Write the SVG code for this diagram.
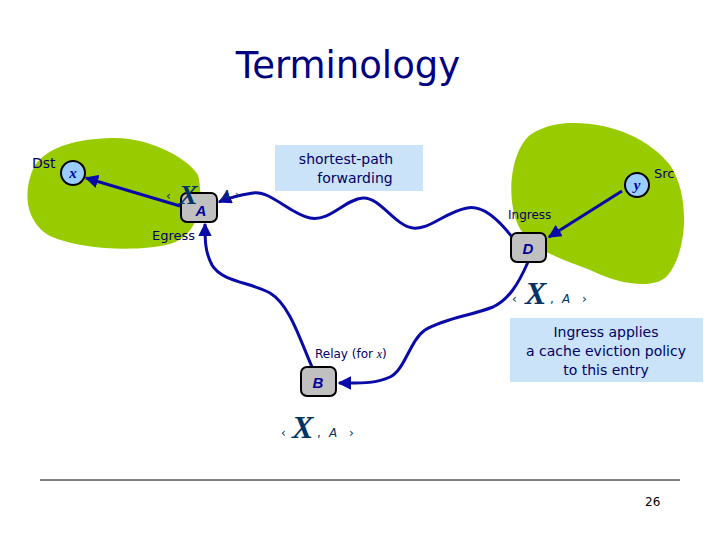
<svg xmlns="http://www.w3.org/2000/svg" width="720" height="540" viewBox="0 0 720 540">
<defs>
<style>
.lbl{font-family:"DejaVu Sans","Open Sans",sans-serif;fill:#000066;}
.blob{fill:#99cc00;}
.note{fill:#cbe3f9;}
.box{fill:#c0c0c0;stroke:#000;stroke-width:2;}
.circ{fill:#99ccff;stroke:#000;stroke-width:2;}
.con{fill:none;stroke:#0a0aa8;stroke-width:3;}
.big{font-family:"Liberation Serif",serif;font-style:italic;font-weight:bold;fill:#003366;}
.sm{font-family:"DejaVu Sans",sans-serif;fill:#003366;font-size:12px;}
.nl{font-family:"Liberation Sans",sans-serif;font-style:italic;font-weight:bold;fill:#000099;}
</style>
<marker id="ah" viewBox="0 0 10 10" refX="9" refY="5" markerWidth="4.5" markerHeight="4.5" orient="auto" markerUnits="strokeWidth">
<path d="M0,0 L10,5 L0,10 z" fill="#0a0aa8"/>
</marker>
</defs>
<rect width="720" height="540" fill="#fff"/>
<text x="348" y="78" text-anchor="middle" font-family="DejaVu Sans,sans-serif" font-size="37" fill="#000080">Terminology</text>

<g id="dst-domain"><path class="blob" d="M110,138 C150,136 190,160 198,175 C204,200 200,235 170,244 C140,252 80,250 50,236 C25,222 22,190 35,165 C50,145 80,139 110,138 Z"/></g>
<g id="src-domain"><path class="blob" d="M573,123 C615,123 650,140 670,165 C690,195 688,250 668,275 C655,290 620,285 590,270 C560,258 530,250 518,225 C505,195 512,150 530,135 C545,125 560,123 573,123 Z"/></g>

<g id="note-spf"><rect class="note" x="275" y="145" width="148" height="46"/>
<text class="lbl" font-size="14" text-anchor="middle"><tspan x="346" y="164">shortest-path</tspan><tspan x="355" y="183">forwarding</tspan></text></g>

<g id="note-ingress"><rect class="note" x="510" y="318" width="193" height="64"/>
<text class="lbl" font-size="14" text-anchor="middle"><tspan x="606" y="337">Ingress applies</tspan><tspan x="606" y="356">a cache eviction policy</tspan><tspan x="606" y="375">to this entry</tspan></text></g>

<g id="connectors">
<path class="con" d="M180,206 L86,178" marker-end="url(#ah)"/>
<path class="con" d="M622,191 L549,237" marker-end="url(#ah)"/>
<path class="con" d="M512,237 C495,215 480,205 467,208 C445,212 430,230 413,228 C395,226 380,197 363,198 C345,199 330,222 310,218 C290,214 270,190 253,193 C240,195 228,198 219,202" marker-end="url(#ah)"/>
<path class="con" d="M528,262 C518,285 508,300 493,307 C470,316 445,318 425,330 C410,340 405,370 390,377 C375,384 360,383 339,383" marker-end="url(#ah)"/>
<path class="con" d="M312,367 C300,340 290,305 270,293 C250,282 222,282 212,265 C205,252 205,240 205,224" marker-end="url(#ah)"/>
</g>

<g id="A">
<rect class="box" x="181" y="193" width="36" height="29" rx="6"/>
<text class="nl" x="201" y="216" font-size="15" text-anchor="middle">A</text>
<text class="sm" x="166" y="200" font-size="10">‹</text>
<text class="big" x="179" y="204" font-size="28">X</text>
<text class="sm" x="222" y="199" font-size="11" font-style="italic">A</text>
<text class="sm" x="235" y="199" font-size="10">›</text>
</g>
<g id="D">
<rect class="box" x="511" y="233" width="35" height="29" rx="6"/>
<text class="nl" x="528" y="254" font-size="15" text-anchor="middle">D</text>
</g>
<g id="B">
<rect class="box" x="301" y="367" width="35" height="29" rx="6"/>
<text class="nl" x="318" y="388" font-size="15" text-anchor="middle">B</text>
</g>
<g id="x-dst">
<circle class="circ" cx="73" cy="173" r="12"/>
<text x="73" y="178" text-anchor="middle" font-family="Liberation Serif,serif" font-style="italic" font-weight="bold" font-size="15" fill="#000099">x</text>
</g>
<g id="y-src">
<circle class="circ" cx="637" cy="185" r="12"/>
<text x="637" y="190" text-anchor="middle" font-family="Liberation Serif,serif" font-style="italic" font-weight="bold" font-size="15" fill="#000099">y</text>
</g>

<text class="lbl" x="32" y="168" font-size="14">Dst</text>
<text class="lbl" x="152" y="240" font-size="13">Egress</text>
<text class="lbl" x="654" y="178" font-size="13">Src</text>
<text class="lbl" x="508" y="219" font-size="12">Ingress</text>
<text class="lbl" x="315" y="358" font-size="12">Relay (for <tspan font-family="Liberation Serif,serif" font-style="italic">x</tspan>)</text>

<g id="entry-D">
<text class="sm" x="512" y="303">‹</text>
<text class="big" x="525" y="304" font-size="32">X</text>
<text class="sm" x="550" y="303">,</text>
<text class="sm" x="562" y="303" font-style="italic">A</text>
<text class="sm" x="582" y="303">›</text>
</g>
<g id="entry-B">
<text class="sm" x="281" y="437">‹</text>
<text class="big" x="292" y="438" font-size="32">X</text>
<text class="sm" x="317" y="437">,</text>
<text class="sm" x="329" y="437" font-style="italic">A</text>
<text class="sm" x="349" y="437">›</text>
</g>

<line x1="40" y1="480" x2="680" y2="480" stroke="#000" stroke-width="1"/>
<text x="645" y="506" font-family="DejaVu Sans,sans-serif" font-size="12" fill="#000">26</text>
</svg>
